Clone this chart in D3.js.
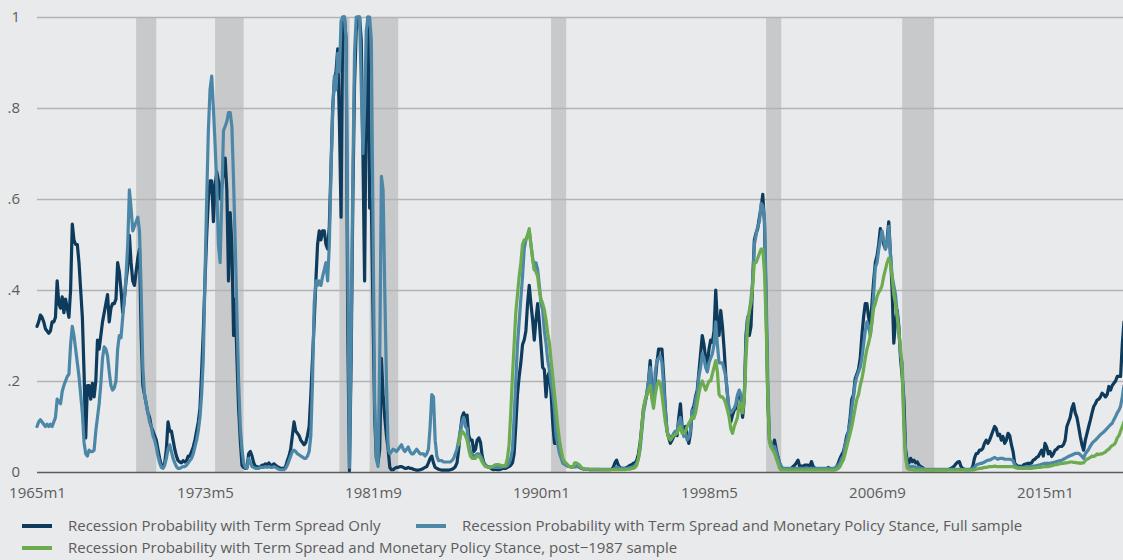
<!DOCTYPE html>
<html>
<head>
<meta charset="utf-8">
<script src="https://cdn.jsdelivr.net/npm/d3@7"></script>
<style>
  html, body { margin: 0; padding: 0; background: #e8eaec; }
  svg { display: block; }
  text { font-family: "Open Sans", "Noto Sans", sans-serif; }
</style>
</head>
<body>
<svg id="chart" width="1123" height="560"></svg>
<script>
// Monthly recession probabilities, 1965m1 onward (one row per year).
const termSpreadOnly = [
  .32,.33,.345,.34,.33,.315,.31,.305,.31,.33,.33,.34,
  .42,.37,.36,.385,.35,.38,.36,.34,.40,.545,.51,.50,
  .50,.46,.40,.34,.22,.075,.19,.19,.16,.195,.165,.20,
  .29,.27,.30,.33,.35,.37,.39,.33,.36,.37,.37,.38,
  .46,.44,.40,.35,.38,.42,.45,.52,.46,.42,.41,.44,
  .47,.49,.30,.19,.17,.15,.13,.12,.10,.09,.08,.07,
  .05,.03,.015,.01,.02,.05,.11,.09,.09,.07,.05,.035,
  .025,.022,.02,.025,.022,.025,.035,.035,.045,.055,.07,.09,
  .11,.14,.22,.31,.42,.52,.60,.64,.64,.55,.63,.66,
  .64,.60,.63,.66,.69,.62,.42,.57,.50,.30,.38,.25,
  .14,.07,.015,.01,.008,.01,.04,.045,.035,.02,.012,.012,
  .01,.012,.015,.015,.018,.015,.02,.015,.015,.018,.015,.012,
  .01,.008,.008,.008,.012,.025,.035,.05,.08,.11,.09,.085,
  .08,.07,.065,.06,.065,.08,.10,.17,.25,.33,.42,.50,
  .53,.51,.53,.53,.50,.49,.54,.67,.80,.86,.88,.93,
  .77,.56,1.0,1.0,.95,.30,.003,.25,.60,.85,.97,1.0,
  1.0,.95,.70,.42,.85,1.0,.58,.60,.35,.12,.03,.02,
  .05,.25,.17,.12,.08,.05,.01,.005,.005,.008,.01,.01,
  .012,.012,.01,.008,.008,.01,.008,.008,.006,.005,.004,.004,
  .005,.006,.008,.01,.012,.02,.03,.035,.02,.01,.008,.006,
  .005,.004,.004,.004,.004,.004,.005,.006,.008,.012,.02,.05,
  .09,.12,.13,.12,.125,.08,.07,.07,.045,.05,.07,.075,
  .065,.035,.02,.015,.012,.01,.009,.006,.005,.006,.005,.005,
  .006,.008,.008,.008,.01,.012,.015,.02,.04,.10,.17,.21,
  .24,.28,.29,.31,.37,.41,.37,.335,.29,.335,.37,.33,
  .28,.23,.225,.165,.21,.22,.173,.107,.063,.063,.085,.063,
  .04,.026,.022,.015,.013,.012,.011,.011,.012,.012,.015,.01,
  .008,.007,.006,.006,.006,.005,.005,.005,.005,.005,.005,.005,
  .005,.005,.005,.005,.005,.005,.006,.01,.02,.026,.015,.01,
  .008,.008,.008,.01,.012,.015,.016,.019,.02,.026,.04,.065,
  .10,.14,.155,.17,.20,.245,.18,.17,.20,.24,.27,.27,
  .27,.21,.14,.09,.075,.063,.07,.078,.085,.08,.12,.15,
  .10,.092,.10,.078,.063,.085,.136,.145,.166,.18,.22,.26,
  .30,.28,.25,.235,.27,.29,.285,.31,.40,.33,.30,.355,
  .32,.27,.21,.17,.13,.11,.125,.136,.14,.166,.17,.16,
  .12,.16,.30,.34,.30,.32,.42,.51,.525,.535,.56,.58,
  .61,.55,.36,.16,.07,.056,.05,.07,.05,.034,.02,.012,
  .006,.006,.006,.006,.006,.008,.012,.015,.02,.026,.012,.013,
  .013,.015,.015,.015,.012,.023,.012,.009,.006,.006,.006,.006,
  .006,.006,.006,.01,.006,.005,.005,.008,.012,.02,.03,.038,
  .045,.06,.08,.088,.12,.16,.17,.205,.215,.226,.25,.30,
  .34,.37,.37,.34,.32,.37,.42,.46,.475,.50,.535,.52,
  .50,.49,.51,.55,.48,.40,.283,.33,.356,.32,.25,.21,
  .16,.05,.025,.02,.03,.023,.026,.02,.022,.015,.012,.01,
  .006,.005,.005,.005,.005,.005,.005,.005,.005,.005,.005,.005,
  .005,.005,.005,.006,.008,.01,.013,.018,.022,.023,.012,.008,
  .006,.005,.005,.005,.006,.012,.03,.04,.041,.048,.048,.052,
  .063,.07,.063,.07,.08,.09,.10,.095,.08,.083,.07,.078,
  .063,.07,.085,.08,.06,.045,.019,.015,.012,.013,.01,.015,
  .017,.018,.019,.019,.02,.026,.028,.032,.034,.041,.048,.035,
  .063,.055,.04,.045,.034,.04,.048,.05,.055,.056,.056,.06,
  .07,.10,.11,.12,.14,.15,.13,.12,.10,.078,.06,.048,
  .07,.085,.10,.114,.13,.144,.15,.158,.16,.165,.173,.17,
  .165,.17,.188,.18,.19,.195,.20,.21,.21,.21,.28,.33
];

const policyFull = [
  .10,.11,.115,.11,.105,.10,.105,.10,.105,.10,.11,.12,
  .16,.155,.15,.177,.19,.20,.21,.215,.28,.32,.30,.27,
  .24,.21,.17,.13,.065,.04,.035,.048,.045,.045,.048,.09,
  .12,.15,.195,.25,.275,.27,.255,.22,.19,.18,.185,.20,
  .27,.30,.295,.34,.38,.43,.50,.62,.58,.53,.54,.55,
  .56,.53,.40,.23,.17,.15,.13,.11,.10,.08,.07,.055,
  .035,.02,.01,.008,.015,.03,.05,.06,.045,.03,.02,.012,
  .008,.008,.01,.012,.012,.015,.02,.025,.03,.04,.055,.07,
  .09,.12,.17,.25,.43,.60,.75,.84,.87,.80,.72,.63,
  .50,.46,.60,.75,.76,.77,.79,.79,.76,.64,.50,.35,
  .20,.10,.05,.02,.01,.008,.03,.02,.012,.01,.008,.008,
  .008,.01,.01,.01,.012,.01,.012,.01,.01,.012,.01,.008,
  .006,.005,.005,.005,.008,.015,.025,.035,.045,.048,.045,.04,
  .038,.035,.033,.03,.03,.035,.045,.08,.20,.37,.42,.41,
  .42,.41,.43,.445,.46,.42,.50,.66,.79,.87,.84,.92,
  .88,.99,1.0,1.0,.95,.45,.01,.30,.65,.92,1.0,1.0,
  1.0,.85,.70,.80,.97,1.0,1.0,.95,.55,.15,.03,.012,
  .25,.65,.62,.40,.20,.05,.04,.045,.05,.048,.045,.05,
  .055,.06,.05,.045,.05,.055,.045,.04,.04,.045,.05,.045,
  .04,.04,.04,.035,.04,.05,.10,.17,.165,.07,.035,.025,
  .025,.025,.022,.022,.022,.022,.022,.025,.03,.04,.05,.07,
  .09,.11,.12,.10,.095,.06,.045,.04,.035,.035,.04,.04,
  .035,.028,.018,.015,.012,.012,.011,.011,.01,.01,.01,.01,
  .01,.012,.012,.012,.014,.02,.03,.05,.12,.20,.28,.33,
  .38,.43,.49,.51,.52,.53,.50,.47,.445,.46,.445,.41,
  .37,.356,.31,.283,.246,.224,.195,.173,.136,.078,.06,.041,
  .03,.019,.017,.015,.013,.012,.012,.012,.012,.012,.012,.01,
  .008,.007,.006,.006,.006,.006,.006,.006,.006,.006,.006,.006,
  .006,.006,.006,.006,.006,.006,.006,.006,.008,.01,.01,.008,
  .008,.008,.008,.008,.008,.01,.01,.012,.015,.02,.03,.05,
  .09,.13,.15,.175,.20,.23,.17,.15,.22,.245,.25,.255,
  .24,.19,.136,.09,.08,.078,.078,.085,.09,.088,.11,.12,
  .098,.078,.085,.07,.075,.092,.136,.13,.16,.173,.21,.23,
  .26,.25,.23,.22,.24,.25,.26,.28,.33,.28,.24,.24,
  .24,.225,.21,.17,.14,.13,.135,.14,.15,.17,.18,.17,
  .14,.17,.28,.34,.35,.38,.42,.50,.52,.54,.55,.59,
  .585,.56,.40,.20,.07,.063,.056,.056,.045,.03,.02,.012,
  .008,.008,.008,.008,.008,.008,.008,.008,.008,.008,.008,.008,
  .008,.008,.008,.008,.008,.008,.008,.008,.008,.008,.008,.008,
  .008,.008,.008,.008,.008,.008,.008,.008,.012,.016,.02,.03,
  .035,.06,.07,.09,.11,.14,.165,.195,.21,.22,.23,.25,
  .28,.31,.33,.32,.30,.33,.39,.45,.46,.488,.51,.53,
  .51,.49,.50,.54,.48,.43,.41,.39,.35,.31,.26,.24,
  .12,.04,.015,.012,.012,.012,.012,.01,.01,.01,.008,.008,
  .006,.006,.006,.006,.006,.006,.006,.006,.006,.006,.006,.006,
  .006,.006,.006,.006,.006,.006,.006,.006,.006,.006,.006,.006,
  .006,.006,.006,.006,.006,.008,.01,.015,.017,.018,.019,.02,
  .022,.024,.026,.026,.028,.03,.032,.03,.028,.03,.03,.03,
  .028,.028,.028,.028,.027,.025,.015,.012,.01,.01,.01,.01,
  .011,.011,.012,.012,.012,.013,.013,.014,.015,.016,.017,.018,
  .019,.019,.019,.019,.02,.021,.022,.023,.024,.025,.026,.028,
  .03,.032,.034,.036,.037,.039,.041,.041,.041,.038,.034,.03,
  .04,.045,.05,.057,.063,.067,.07,.074,.078,.082,.085,.088,
  .092,.096,.10,.104,.107,.115,.122,.13,.136,.145,.165,.19
];

// post-1987 sample estimates begin in 1985m12
const policyPost1987Start = 251;
const policyPost1987 = [
  .06,
  .08,.09,.085,.08,.07,.05,.035,.03,.03,.03,.035,.035,
  .03,.022,.016,.012,.011,.01,.01,.012,.014,.016,.016,.016,
  .015,.013,.014,.015,.03,.06,.13,.21,.28,.35,.39,.43,
  .46,.50,.51,.51,.52,.535,.50,.47,.445,.44,.43,.40,
  .38,.37,.356,.334,.305,.283,.246,.21,.173,.136,.10,.07,
  .048,.03,.022,.019,.015,.012,.011,.01,.02,.02,.018,.015,
  .01,.008,.006,.006,.006,.006,.006,.006,.006,.006,.006,.006,
  .005,.005,.005,.005,.005,.005,.005,.005,.005,.005,.005,.005,
  .005,.005,.005,.006,.006,.006,.008,.008,.01,.015,.03,.06,
  .10,.14,.16,.17,.18,.19,.16,.14,.17,.19,.20,.195,
  .17,.14,.11,.09,.075,.07,.075,.08,.082,.085,.095,.10,
  .085,.085,.09,.10,.107,.114,.122,.118,.13,.151,.173,.19,
  .20,.19,.18,.19,.20,.20,.215,.23,.245,.22,.17,.165,
  .165,.16,.15,.136,.12,.095,.085,.10,.11,.12,.15,.151,
  .13,.16,.25,.32,.355,.37,.41,.46,.46,.47,.48,.49,
  .49,.44,.33,.16,.065,.055,.048,.041,.03,.019,.008,.004,
  .004,.004,.004,.004,.004,.004,.004,.004,.004,.004,.004,.004,
  .004,.004,.004,.004,.004,.004,.004,.004,.004,.004,.004,.004,
  .004,.004,.004,.004,.004,.004,.004,.004,.006,.008,.012,.02,
  .027,.04,.055,.07,.085,.10,.12,.14,.16,.17,.19,.205,
  .225,.25,.27,.283,.30,.33,.36,.37,.385,.395,.40,.41,
  .43,.445,.46,.47,.46,.43,.39,.37,.34,.31,.27,.22,
  .10,.03,.008,.006,.005,.005,.004,.004,.004,.004,.004,.004,
  .004,.004,.004,.004,.004,.004,.004,.004,.004,.004,.004,.004,
  .004,.004,.004,.004,.004,.004,.004,.004,.004,.004,.004,.004,
  .004,.004,.004,.004,.004,.004,.005,.006,.007,.008,.008,.009,
  .01,.01,.011,.012,.012,.012,.013,.012,.012,.012,.012,.012,
  .012,.012,.012,.012,.012,.012,.01,.009,.008,.008,.008,.008,
  .008,.008,.008,.008,.008,.009,.009,.01,.01,.01,.011,.011,
  .012,.012,.012,.013,.014,.015,.016,.016,.017,.018,.019,.019,
  .02,.02,.021,.022,.022,.021,.021,.02,.02,.019,.02,.02,
  .025,.028,.03,.032,.035,.034,.036,.04,.038,.04,.04,.042,
  .044,.048,.05,.055,.058,.06,.065,.075,.08,.09,.10,.11
];

// NBER recessions as [first month, last month] indices from 1965m1
const recessions = [[59, 70], [106, 122], [180, 185], [198, 214], [306, 314], [434, 442], [515, 533]];

const xTickMonths = [0, 100, 200, 300, 400, 500, 600];
const xTickLabels = ["1965m1", "1973m5", "1981m9", "1990m1", "1998m5", "2006m9", "2015m1"];
const yTickValues = [0, 0.2, 0.4, 0.6, 0.8, 1];
const yTickLabels = ["0", ".2", ".4", ".6", ".8", "1"];

const seriesNames = [
  "Recession Probability with Term Spread Only",
  "Recession Probability with Term Spread and Monetary Policy Stance, Full sample",
  "Recession Probability with Term Spread and Monetary Policy Stance, post\u22121987 sample"
];
const seriesColors = ["#0e3a5c", "#4d87a8", "#6cab4f"];

const W = 1123, H = 560;
const plotLeft = 37, plotRight = W, plotTop = 17, plotBottom = 472;
const fontSize = "15px";
const textColor = "#5c5c5c";

const svg = d3.select("#chart");
svg.append("rect").attr("width", W).attr("height", H).attr("fill", "#e8eaec");

const x = d3.scaleLinear().domain([0, 600]).range([plotLeft, 1045]);
const y = d3.scaleLinear().domain([0, 1]).range([plotBottom, plotTop]);

// recession shading
svg.append("g").selectAll("rect")
  .data(recessions)
  .join("rect")
  .attr("x", d => x(d[0]))
  .attr("width", d => x(d[1] + 1) - x(d[0]))
  .attr("y", plotTop)
  .attr("height", plotBottom - plotTop)
  .attr("fill", "#c8c9cb");

// y axis with gridlines across the plot
const yAxis = svg.append("g")
  .attr("transform", `translate(${plotLeft},0)`)
  .call(d3.axisLeft(y)
    .tickValues(yTickValues)
    .tickFormat((d, i) => yTickLabels[i])
    .tickSize(-(plotRight - plotLeft))
    .tickPadding(17));
yAxis.select(".domain").remove();
yAxis.selectAll(".tick line")
  .attr("stroke", d => d === 0 ? "#5b5b5b" : "#b2b3b5")
  .attr("stroke-width", d => d === 0 ? 1.6 : 1.4);
yAxis.selectAll(".tick text")
  .attr("fill", textColor)
  .style("font-size", fontSize);

// x axis labels
const xAxis = svg.append("g")
  .attr("transform", `translate(0,${plotBottom})`)
  .call(d3.axisBottom(x)
    .tickValues(xTickMonths)
    .tickFormat((d, i) => xTickLabels[i])
    .tickSize(0)
    .tickPadding(15));
xAxis.select(".domain").remove();
xAxis.selectAll(".tick text")
  .attr("fill", textColor)
  .style("font-size", fontSize);

// series lines
const line = d3.line()
  .x(d => x(d[0]))
  .y(d => y(d[1]));

const series = [
  termSpreadOnly.map((v, i) => [i, v]),
  policyFull.map((v, i) => [i, v]),
  policyPost1987.map((v, i) => [i + policyPost1987Start, v])
];

svg.append("g").selectAll("path")
  .data(series)
  .join("path")
  .attr("d", line)
  .attr("fill", "none")
  .attr("stroke", (d, i) => seriesColors[i])
  .attr("stroke-width", 3.2)
  .attr("stroke-linejoin", "round")
  .attr("stroke-linecap", "round");

// legend
const legendPos = [[20, 526], [414, 526], [20, 548]];
const legend = svg.append("g").selectAll("g")
  .data(seriesNames)
  .join("g")
  .attr("transform", (d, i) => `translate(${legendPos[i][0]},${legendPos[i][1]})`);
legend.append("line")
  .attr("x1", 2).attr("x2", 32)
  .attr("stroke", (d, i) => seriesColors[i])
  .attr("stroke-width", 4);
legend.append("text")
  .attr("x", 48)
  .attr("dy", "0.35em")
  .attr("fill", textColor)
  .style("font-size", fontSize)
  .text(d => d);
</script>
</body>
</html>
